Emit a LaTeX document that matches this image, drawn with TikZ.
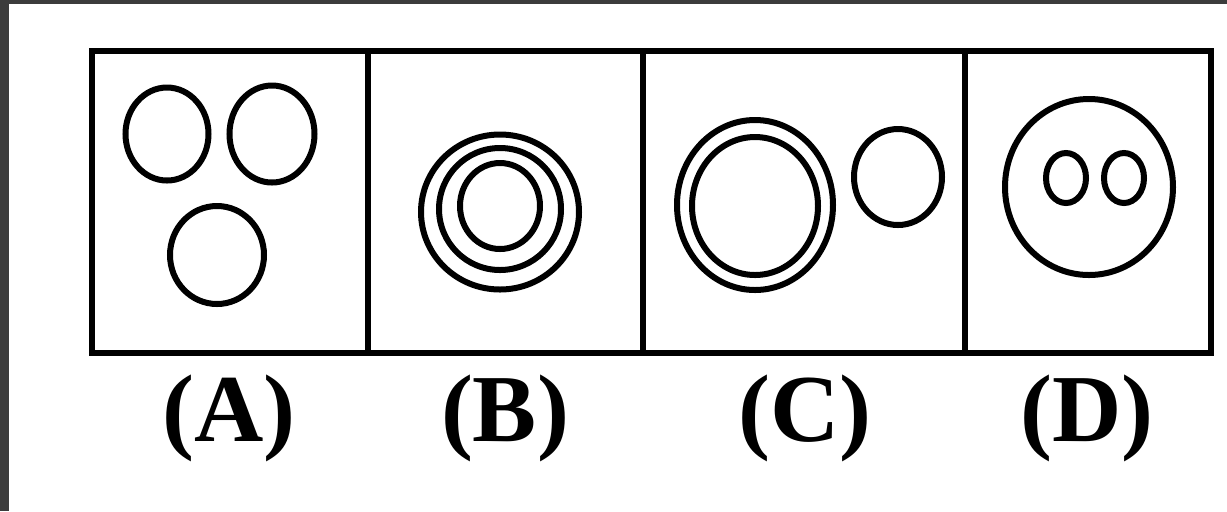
\documentclass[tikz,border=0pt]{standalone}
\usepackage{fontspec}
\setmainfont{Liberation Serif}
\definecolor{band}{HTML}{3C3C3C}
\begin{document}
\begin{tikzpicture}[x=0.5pt,y=-0.5pt,
  ring/.style={draw=black,line width=3pt},
  frame/.style={line width=2.8pt},
  lbl/.style={font=\fontsize{48}{58}\selectfont\bfseries,inner sep=0pt,anchor=center}]
\useasboundingbox (0,0) rectangle (1227,511);
\fill[white] (0,0) rectangle (1227,511);
\fill[band] (0,0) rectangle (9,511);
\fill[band] (0,0) rectangle (1227,4);
% frame
\draw[frame] (92,51) rectangle (1211,353);
\draw[frame] (368,51) -- (368,353);
\draw[frame] (643,51) -- (643,353);
\draw[frame] (965,51) -- (965,353);
% panel A
\draw[ring] (167,134) ellipse [x radius=20.75pt, y radius=23.25pt];
\draw[ring] (272,134) ellipse [x radius=21.25pt, y radius=24.25pt];
\draw[ring] (217,255) ellipse [x radius=23.5pt, y radius=24.5pt];
% panel B
\draw[ring] (500,212) ellipse [x radius=39.5pt, y radius=38.75pt];
\draw[ring] (500,209) ellipse [x radius=30.5pt, y radius=30.5pt];
\draw[ring] (500,206) ellipse [x radius=20pt, y radius=21.5pt];
% panel C
\draw[ring] (755,205) ellipse [x radius=39pt, y radius=42.5pt];
\draw[ring] (755,206) ellipse [x radius=31.5pt, y radius=34.5pt];
\draw[ring] (898,177) ellipse [x radius=22pt, y radius=24pt];
% panel D
\draw[ring] (1089,187) ellipse [x radius=42pt, y radius=44pt];
\draw[ring] (1066,178) ellipse [x radius=10pt, y radius=12.5pt];
\draw[ring] (1124,178) ellipse [x radius=10pt, y radius=12.5pt];
% labels
\node[lbl] (la) at (229,418) {(A)};
\node[lbl] (lb) at (505,418) {(B)};
\node[lbl] (lc) at (805,418) {(C)};
\node[lbl] (ld) at (1087,418) {(D)};
\end{tikzpicture}
\end{document}
